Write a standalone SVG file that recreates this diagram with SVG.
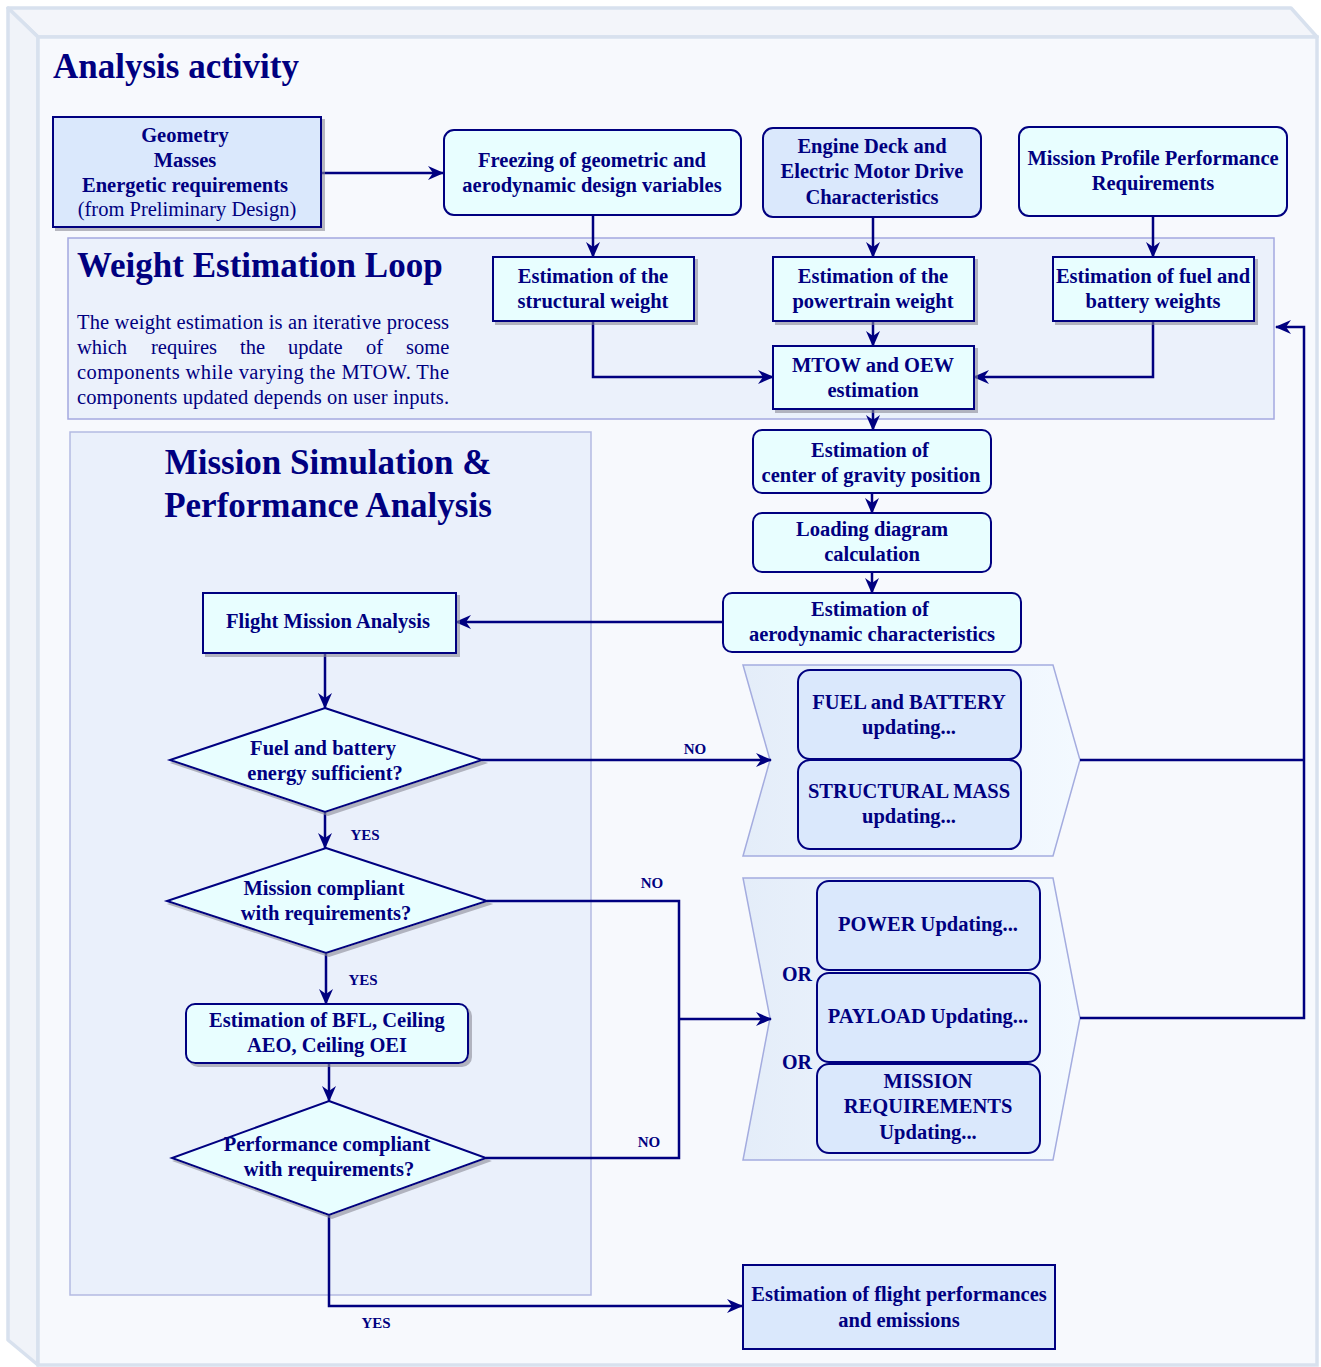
<svg xmlns="http://www.w3.org/2000/svg" width="1321" height="1367" viewBox="0 0 1321 1367">
  <style>
    .lbl { font-family: "Liberation Serif", "DejaVu Serif", serif; font-weight: bold; font-size: 20.5px; fill: #000080; text-anchor: middle; }
    .reg { font-family: "Liberation Serif", "DejaVu Serif", serif; font-weight: normal; font-size: 20.5px; fill: #000080; }
    .title { font-family: "Liberation Serif", "DejaVu Serif", serif; font-weight: bold; font-size: 35px; fill: #000080; }
    .small { font-family: "Liberation Serif", "DejaVu Serif", serif; font-weight: bold; font-size: 15px; fill: #000080; text-anchor: middle; }
    .or { font-family: "Liberation Serif", "DejaVu Serif", serif; font-weight: bold; font-size: 20px; fill: #000080; text-anchor: middle; }
    .cyan { fill: #e8feff; stroke: #000080; stroke-width: 2; }
    .blue { fill: #dae8fc; stroke: #000080; stroke-width: 2; }
    .sh { filter: url(#shadow); }
    .edge { fill: none; stroke: #000080; stroke-width: 2.5; }
    .arrow { marker-end: url(#arr); }
  </style>
  <defs>
    <filter id="shadow" x="-10%" y="-10%" width="130%" height="140%">
      <feDropShadow dx="3" dy="3" stdDeviation="0.6" flood-color="#8a8a96" flood-opacity="0.6"/>
    </filter>
    <marker id="arr" viewBox="0 0 16 14" refX="15" refY="7" markerWidth="16" markerHeight="14" orient="auto" markerUnits="userSpaceOnUse">
      <path d="M0,0 L16,7 L0,14 L5,7 z" fill="#000080"/>
    </marker>
    <linearGradient id="chev" x1="0" y1="0" x2="1" y2="0">
      <stop offset="0" stop-color="#e4edf9"/>
      <stop offset="1" stop-color="#f3f9ff"/>
    </linearGradient>
  </defs>

  <rect width="1321" height="1367" fill="#ffffff"/>

  <!-- outer activity box drawn as a cube -->
  <g id="activity-frame">
    <polygon points="8,8 1291,8 1317,37 38,37" fill="#f3f5fa" stroke="#d8e1ee" stroke-width="3.5" stroke-linejoin="round"/>
    <polygon points="8,8 38,37 38,1365 8,1340" fill="#f0f3f9" stroke="#d8e1ee" stroke-width="3.5" stroke-linejoin="round"/>
    <rect x="38" y="37" width="1279" height="1328" fill="#f7f9fd" stroke="#d8e1ee" stroke-width="3.5"/>
    <text class="title" x="53" y="78">Analysis activity</text>
  </g>

  <!-- weight estimation loop container -->
  <g id="weight-loop">
    <rect x="68" y="238" width="1206" height="181" fill="#ebf1fb" stroke="#a4a8e0" stroke-width="1.5"/>
    <text class="title" x="77" y="277">Weight Estimation Loop</text>
    <text class="reg" x="77" y="329" textLength="372" lengthAdjust="spacing">The weight estimation is an iterative process</text>
    <text class="reg" y="354"><tspan x="77">which</tspan><tspan x="151">requires</tspan><tspan x="240">the</tspan><tspan x="288">update</tspan><tspan x="366">of</tspan><tspan x="406">some</tspan></text>
    <text class="reg" x="77" y="379" textLength="372" lengthAdjust="spacing">components while varying the MTOW. The</text>
    <text class="reg" x="77" y="404" textLength="372" lengthAdjust="spacing">components updated depends on user inputs.</text>
  </g>

  <!-- mission simulation container -->
  <g id="mission-sim">
    <rect x="70" y="432" width="521" height="863" fill="#eaf0fb" stroke="#b4bae2" stroke-width="1.5"/>
    <text class="title" x="328" y="474" text-anchor="middle">Mission Simulation &amp;</text>
    <text class="title" x="328" y="517" text-anchor="middle">Performance Analysis</text>
  </g>

  <!-- update chevrons -->
  <g id="chevron-fuel-structure">
    <polygon points="743,665 1053,665 1080,760 1053,856 743,856 770,760" fill="url(#chev)" stroke="#a4acdf" stroke-width="1.5"/>
  </g>
  <g id="chevron-power-payload-mission">
    <polygon points="743,878 1053,878 1080,1018 1053,1160 743,1160 770,1018" fill="url(#chev)" stroke="#a4acdf" stroke-width="1.5"/>
  </g>

  <!-- connectors -->
  <g id="connectors">
    <path class="edge arrow" d="M321,173 H443"/>
    <path class="edge arrow" d="M593,215 V257"/>
    <path class="edge arrow" d="M873,217 V257"/>
    <path class="edge arrow" d="M1153,216 V257"/>
    <path class="edge arrow" d="M873,321 V346"/>
    <path class="edge arrow" d="M593,321 V377 H773"/>
    <path class="edge arrow" d="M1153,321 V377 H974"/>
    <path class="edge arrow" d="M873,409 V430"/>
    <path class="edge arrow" d="M872,493 V513"/>
    <path class="edge arrow" d="M872,572 V593"/>
    <path class="edge arrow" d="M723,622 H456"/>
    <path class="edge arrow" d="M325,653 V708"/>
    <path class="edge arrow" d="M482,760 H771"/>
    <path class="edge arrow" d="M325,812 V848"/>
    <path class="edge" d="M487,901 H679 V1158 H486"/>
    <path class="edge arrow" d="M679,1019 H771"/>
    <path class="edge arrow" d="M326,953 V1004"/>
    <path class="edge arrow" d="M329,1063 V1101"/>
    <path class="edge arrow" d="M329,1215 V1306 H742"/>
    <path class="edge" d="M1080,760 H1304"/>
    <path class="edge arrow" d="M1080,1018 H1304 V327 H1276"/>
    <text class="small" x="695" y="754">NO</text>
    <text class="small" x="365" y="840">YES</text>
    <text class="small" x="652" y="888">NO</text>
    <text class="small" x="363" y="985">YES</text>
    <text class="small" x="649" y="1147">NO</text>
    <text class="small" x="376" y="1328">YES</text>
  </g>

  <!-- nodes -->
  <g id="inputs-preliminary">
    <rect class="blue sh" x="53" y="117" width="268" height="110"/>
    <text class="lbl" x="185" y="142">Geometry</text>
    <text class="lbl" x="185" y="167">Masses</text>
    <text class="lbl" x="185" y="192">Energetic requirements</text>
    <text class="lbl" x="187" y="216" style="font-weight:normal">(from Preliminary Design)</text>
  </g>
  <g id="freezing-design">
    <rect class="cyan" x="444" y="130" width="297" height="85" rx="10"/>
    <text class="lbl" x="592" y="167">Freezing of geometric and</text>
    <text class="lbl" x="592" y="192">aerodynamic design variables</text>
  </g>
  <g id="engine-deck">
    <rect class="blue" x="763" y="128" width="218" height="89" rx="10"/>
    <text class="lbl" x="872" y="153">Engine Deck and</text>
    <text class="lbl" x="872" y="178">Electric Motor Drive</text>
    <text class="lbl" x="872" y="204">Characteristics</text>
  </g>
  <g id="mission-profile">
    <rect class="cyan" x="1019" y="127" width="268" height="89" rx="10"/>
    <text class="lbl" x="1153" y="165">Mission Profile Performance</text>
    <text class="lbl" x="1153" y="190">Requirements</text>
  </g>
  <g id="structural-weight">
    <rect class="cyan sh" x="493" y="257" width="201" height="64"/>
    <text class="lbl" x="593" y="283">Estimation of the</text>
    <text class="lbl" x="593" y="308">structural weight</text>
  </g>
  <g id="powertrain-weight">
    <rect class="cyan sh" x="773" y="257" width="201" height="64"/>
    <text class="lbl" x="873" y="283">Estimation of the</text>
    <text class="lbl" x="873" y="308">powertrain weight</text>
  </g>
  <g id="fuel-battery-weight">
    <rect class="cyan sh" x="1053" y="257" width="201" height="64"/>
    <text class="lbl" x="1153" y="283">Estimation of fuel and</text>
    <text class="lbl" x="1153" y="308">battery weights</text>
  </g>
  <g id="mtow-oew">
    <rect class="cyan sh" x="773" y="346" width="201" height="63"/>
    <text class="lbl" x="873" y="372">MTOW and OEW</text>
    <text class="lbl" x="873" y="397">estimation</text>
  </g>
  <g id="cg-position">
    <rect class="cyan" x="753" y="430" width="238" height="63" rx="9"/>
    <text class="lbl" x="870" y="457">Estimation of</text>
    <text class="lbl" x="871" y="482">center of gravity position</text>
  </g>
  <g id="loading-diagram">
    <rect class="cyan" x="753" y="513" width="238" height="59" rx="9"/>
    <text class="lbl" x="872" y="536">Loading diagram</text>
    <text class="lbl" x="872" y="561">calculation</text>
  </g>
  <g id="aero-characteristics">
    <rect class="cyan" x="723" y="593" width="298" height="59" rx="9"/>
    <text class="lbl" x="870" y="616">Estimation of</text>
    <text class="lbl" x="872" y="641">aerodynamic characteristics</text>
  </g>
  <g id="flight-mission-analysis">
    <rect class="cyan sh" x="203" y="593" width="253" height="60"/>
    <text class="lbl" x="328" y="628">Flight Mission Analysis</text>
  </g>
  <g id="energy-check">
    <polygon class="cyan sh" points="325,708 482,760 325,812 170,760"/>
    <text class="lbl" x="323" y="755">Fuel and battery</text>
    <text class="lbl" x="325" y="780">energy sufficient?</text>
  </g>
  <g id="mission-check">
    <polygon class="cyan sh" points="326,848 487,901 326,953 167,901"/>
    <text class="lbl" x="324" y="895">Mission compliant</text>
    <text class="lbl" x="326" y="920">with requirements?</text>
  </g>
  <g id="bfl-ceiling">
    <rect class="cyan sh" x="186" y="1004" width="282" height="59" rx="9"/>
    <text class="lbl" x="327" y="1027">Estimation of BFL, Ceiling</text>
    <text class="lbl" x="327" y="1052">AEO, Ceiling OEI</text>
  </g>
  <g id="performance-check">
    <polygon class="cyan sh" points="329,1101 486,1158 329,1215 172,1158"/>
    <text class="lbl" x="327" y="1151">Performance compliant</text>
    <text class="lbl" x="329" y="1176">with requirements?</text>
  </g>
  <g id="flight-performance-emissions">
    <rect class="blue" x="743" y="1265" width="312" height="84"/>
    <text class="lbl" x="899" y="1301">Estimation of flight performances</text>
    <text class="lbl" x="899" y="1327">and emissions</text>
  </g>
  <g id="fuel-battery-update">
    <rect class="blue" x="798" y="670" width="223" height="89" rx="12"/>
    <text class="lbl" x="909" y="709">FUEL and BATTERY</text>
    <text class="lbl" x="909" y="734">updating...</text>
  </g>
  <g id="structural-mass-update">
    <rect class="blue" x="798" y="760" width="223" height="89" rx="12"/>
    <text class="lbl" x="909" y="798">STRUCTURAL MASS</text>
    <text class="lbl" x="909" y="823">updating...</text>
  </g>
  <g id="power-update">
    <rect class="blue" x="817" y="881" width="223" height="89" rx="12"/>
    <text class="lbl" x="928" y="931">POWER Updating...</text>
  </g>
  <g id="payload-update">
    <rect class="blue" x="817" y="973" width="223" height="89" rx="12"/>
    <text class="lbl" x="928" y="1023">PAYLOAD Updating...</text>
  </g>
  <g id="mission-requirements-update">
    <rect class="blue" x="817" y="1064" width="223" height="89" rx="12"/>
    <text class="lbl" x="928" y="1088">MISSION</text>
    <text class="lbl" x="928" y="1113">REQUIREMENTS</text>
    <text class="lbl" x="928" y="1139">Updating...</text>
  </g>
  <g id="or-labels">
    <text class="or" x="797" y="981">OR</text>
    <text class="or" x="797" y="1069">OR</text>
  </g>
</svg>
